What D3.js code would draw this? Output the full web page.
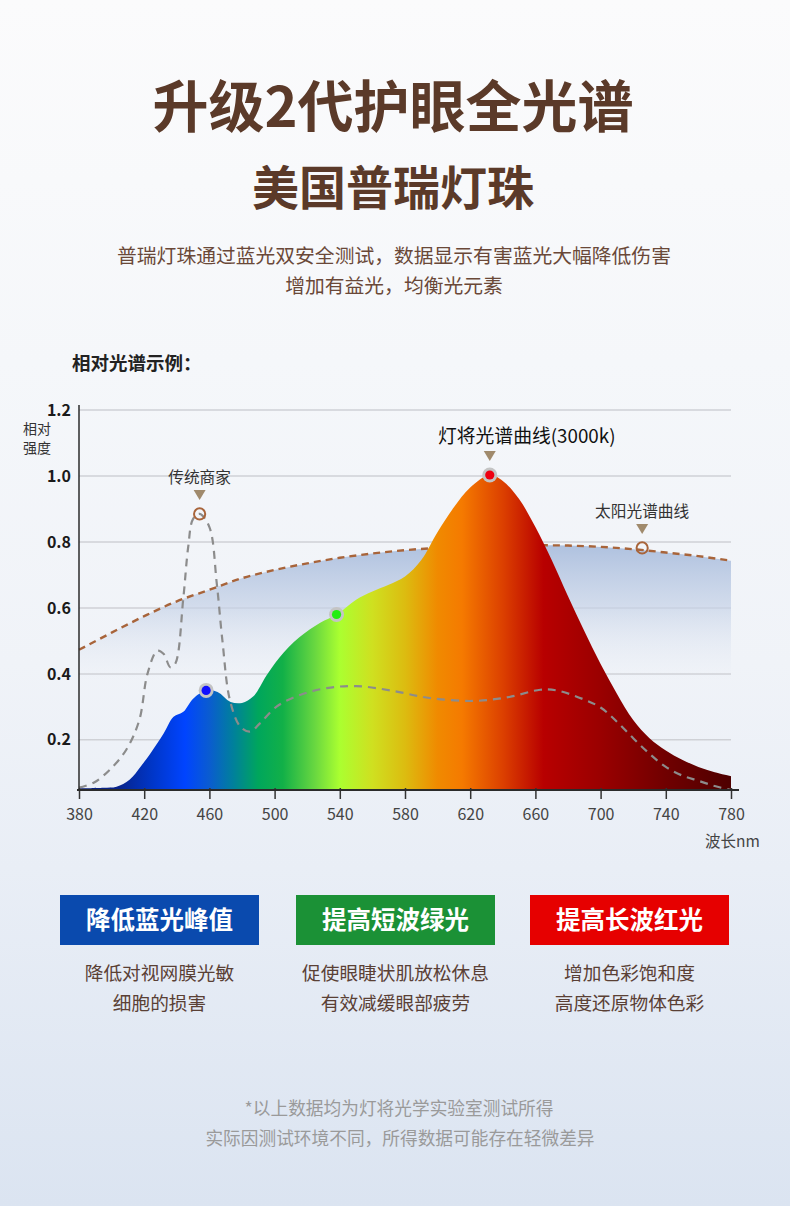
<!DOCTYPE html>
<html>
<head>
<meta charset="utf-8">
<script src="https://cdn.jsdelivr.net/npm/d3@7"></script>
<style>
  html, body { margin: 0; padding: 0; }
  body { width: 790px; height: 1206px; overflow: hidden; }
  svg text { font-family: "Noto Sans CJK SC", "Noto Sans", sans-serif; }
</style>
</head>
<body>
<div id="chart"></div>
<script>
// Data
var ledW = [380, 395, 403, 411, 418, 424, 432, 438, 444, 450, 458, 465, 473, 480, 487, 495, 503, 515, 528, 538, 550, 560, 570, 580, 590, 600, 610, 620, 632, 640, 650, 660, 670, 680, 690, 700, 710, 720, 730, 740, 750, 760, 770, 780];
var ledV = [0.053, 0.055, 0.058, 0.079, 0.12, 0.16, 0.22, 0.27, 0.285, 0.325, 0.35, 0.345, 0.315, 0.312, 0.332, 0.395, 0.45, 0.51, 0.555, 0.58, 0.625, 0.65, 0.67, 0.695, 0.745, 0.83, 0.905, 0.965, 1.003, 0.985, 0.93, 0.845, 0.745, 0.635, 0.53, 0.43, 0.34, 0.26, 0.205, 0.168, 0.14, 0.118, 0.102, 0.09];

var tradW = [380, 389, 399, 409, 417, 422, 428, 432, 436, 439, 444, 447, 450, 454, 460, 464.5, 468, 472.6, 479, 485, 491, 501, 515, 532, 550, 571, 595, 622, 644, 663, 673, 690, 700, 710, 720, 730, 740, 750, 760, 770, 780];
var tradV = [0.055, 0.07, 0.11, 0.17, 0.26, 0.40, 0.47, 0.46, 0.42, 0.43, 0.63, 0.785, 0.87, 0.885, 0.845, 0.675, 0.50, 0.32, 0.24, 0.225, 0.25, 0.30, 0.335, 0.357, 0.363, 0.35, 0.327, 0.318, 0.33, 0.352, 0.35, 0.322, 0.298, 0.255, 0.205, 0.158, 0.118, 0.092, 0.076, 0.06, 0.048];

var sunW = [380, 400, 420, 440, 460, 480, 500, 520, 540, 560, 580, 600, 620, 640, 660, 680, 700, 720, 740, 760, 780];
var sunV = [0.473, 0.525, 0.575, 0.62, 0.655, 0.69, 0.715, 0.735, 0.752, 0.765, 0.775, 0.782, 0.787, 0.79, 0.79, 0.789, 0.785, 0.778, 0.768, 0.757, 0.743];

var specW = [380, 405, 425, 445, 460, 475, 490, 505, 525, 540, 560, 580, 600, 615, 640, 665, 700, 740, 780];
var specC = ["#0b1f78", "#07248e", "#0036c8", "#0044ff", "#0a5cd0", "#00819a", "#00a65c", "#12b048", "#6ad840", "#abff30", "#cfe020", "#dcbc10", "#f08a00", "#f57a00", "#dc4000", "#b80000", "#9a0000", "#700000", "#4e0000"];

var xTicks = [380, 420, 460, 500, 540, 580, 620, 660, 700, 740, 780];
var yTicks = [0.2, 0.4, 0.6, 0.8, 1.0, 1.2];
var yBase = 0.048;

var dotW = [458, 538, 632];
var dotV = [0.35, 0.58, 1.003];
var dotC = ["#1010ff", "#22ee11", "#ee0011"];

var ringW = [454, 725.5];
var ringV = [0.885, 0.782];

var cards = ["降低蓝光峰值", "提高短波绿光", "提高长波红光"];
var cardColors = ["#0a4aae", "#1b9136", "#e60000"];
var cardLines = [
  ["降低对视网膜光敏", "细胞的损害"],
  ["促使眼睫状肌放松休息", "有效减缓眼部疲劳"],
  ["增加色彩饱和度", "高度还原物体色彩"]
];

var W = 790, H = 1206;

var svg = d3.select("#chart").append("svg")
  .attr("width", W).attr("height", H);

var defs = svg.append("defs");

// Page background
var bg = defs.append("linearGradient").attr("id", "bg")
  .attr("x1", 0).attr("y1", 0).attr("x2", 0).attr("y2", 1);
[[0, "#fbfbfc"], [0.3, "#f5f7fa"], [0.55, "#f0f3f8"], [0.72, "#e9eef6"], [1, "#dbe4f1"]].forEach(function (s) {
  bg.append("stop").attr("offset", s[0]).attr("stop-color", s[1]);
});
svg.append("rect").attr("width", W).attr("height", H).attr("fill", "url(#bg)");

// Scales
var x = d3.scaleLinear().domain([380, 780]).range([79, 731]);
var y = d3.scaleLinear().domain([yBase, 1.2]).range([790, 410]);

// Header texts
svg.append("text").attr("x", 393).attr("y", 127).attr("text-anchor", "middle")
  .attr("font-size", 56).attr("font-weight", 700).attr("fill", "#5b3a29")
  .text("升级2代护眼全光谱");
svg.append("text").attr("x", 393).attr("y", 205).attr("text-anchor", "middle")
  .attr("font-size", 47).attr("font-weight", 700).attr("fill", "#5b3a29")
  .text("美国普瑞灯珠");
svg.append("text").attr("x", 394).attr("y", 263).attr("text-anchor", "middle")
  .attr("font-size", 19.8).attr("fill", "#6a4838")
  .text("普瑞灯珠通过蓝光双安全测试，数据显示有害蓝光大幅降低伤害");
svg.append("text").attr("x", 394).attr("y", 293).attr("text-anchor", "middle")
  .attr("font-size", 19.8).attr("fill", "#6a4838")
  .text("增加有益光，均衡光元素");

svg.append("text").attr("x", 72).attr("y", 370)
  .attr("font-size", 18.5).attr("font-weight", 700).attr("fill", "#222")
  .text("相对光谱示例：");

// Chart group
var g = svg.append("g");

// Grid lines
g.selectAll("line.grid").data(yTicks).enter().append("line")
  .attr("class", "grid")
  .attr("x1", x(380)).attr("x2", x(780))
  .attr("y1", function (d) { return y(d); }).attr("y2", function (d) { return y(d); })
  .attr("stroke", "#cfd1d6").attr("stroke-width", 1.5);

// Sun area (faded blue)
var sunGrad = defs.append("linearGradient").attr("id", "sunfill")
  .attr("gradientUnits", "userSpaceOnUse")
  .attr("x1", 0).attr("y1", y(0.8)).attr("x2", 0).attr("y2", y(0.38));
sunGrad.append("stop").attr("offset", 0).attr("stop-color", "#a9bddd").attr("stop-opacity", 0.95);
sunGrad.append("stop").attr("offset", 0.45).attr("stop-color", "#c3d0e6").attr("stop-opacity", 0.7);
sunGrad.append("stop").attr("offset", 1).attr("stop-color", "#e4eaf4").attr("stop-opacity", 0);

var sunData = sunW.map(function (w, i) { return [w, sunV[i]]; });
var tradData = tradW.map(function (w, i) { return [w, tradV[i]]; });
var ledData = ledW.map(function (w, i) { return [w, ledV[i]]; });

var curve = d3.curveCatmullRom.alpha(0.5);

g.append("path").datum(sunData)
  .attr("fill", "url(#sunfill)")
  .attr("d", d3.area().curve(curve)
    .x(function (d) { return x(d[0]); })
    .y0(y(yBase)).y1(function (d) { return y(d[1]); }));

g.append("path").datum(sunData)
  .attr("fill", "none").attr("stroke", "#a8643a").attr("stroke-width", 2.4)
  .attr("stroke-dasharray", "7,5")
  .attr("d", d3.line().curve(curve)
    .x(function (d) { return x(d[0]); })
    .y(function (d) { return y(d[1]); }));

// LED spectrum area
var spec = defs.append("linearGradient").attr("id", "spec")
  .attr("gradientUnits", "userSpaceOnUse")
  .attr("x1", x(380)).attr("y1", 0).attr("x2", x(780)).attr("y2", 0);
specW.forEach(function (w, i) {
  spec.append("stop").attr("offset", (w - 380) / 400).attr("stop-color", specC[i]);
});

g.append("path").datum(ledData)
  .attr("fill", "url(#spec)")
  .attr("d", d3.area().curve(curve)
    .x(function (d) { return x(d[0]); })
    .y0(y(yBase)).y1(function (d) { return y(d[1]); }));

// Traditional LED dashed curve
g.append("path").datum(tradData)
  .attr("fill", "none").attr("stroke", "#8c8c8c").attr("stroke-width", 2.2)
  .attr("stroke-dasharray", "8,6")
  .attr("d", d3.line().curve(curve)
    .x(function (d) { return x(d[0]); })
    .y(function (d) { return y(d[1]); }));

// Axes
var xAxis = g.append("g").attr("transform", "translate(0," + (y(yBase) - 2) + ")")
  .call(d3.axisBottom(x).tickValues(xTicks).tickSize(11).tickFormat(d3.format("d")));
xAxis.select(".domain").remove();
xAxis.selectAll(".tick line").attr("stroke", "#333").attr("stroke-width", 1.5);
xAxis.selectAll(".tick text").attr("dy", 0).attr("y", 32)
  .attr("font-size", 16).attr("fill", "#444")
  .style("font-family", "'Noto Sans CJK SC', sans-serif");

g.append("line").attr("x1", x(380) - 2).attr("x2", x(780) + 8)
  .attr("y1", y(yBase)).attr("y2", y(yBase))
  .attr("stroke", "#2b2b2b").attr("stroke-width", 2);

var yAxis = g.append("g").attr("transform", "translate(" + x(380) + ",0)")
  .call(d3.axisLeft(y).tickValues(yTicks).tickSize(0).tickFormat(d3.format(".1f")));
yAxis.select(".domain").remove();
yAxis.selectAll(".tick text").attr("x", -8)
  .attr("font-size", 16).attr("font-weight", 700).attr("fill", "#1a1a1a")
  .style("font-family", "'Noto Sans CJK SC', sans-serif");

g.append("line").attr("x1", x(380)).attr("x2", x(380))
  .attr("y1", 405).attr("y2", y(yBase))
  .attr("stroke", "#2b2b2b").attr("stroke-width", 1.5);

// Y axis title on two lines
svg.append("text").attr("x", 23).attr("y", 434).attr("font-size", 14).attr("fill", "#333")
  .selectAll("tspan").data(["相对", "强度"]).enter().append("tspan")
  .attr("x", 23).attr("dy", function (d, i) { return i ? 19 : 0; })
  .text(function (d) { return d; });
svg.append("text").attr("x", 705).attr("y", 847).attr("font-size", 15.5).attr("fill", "#444").text("波长nm");

// Dots on the LED curve
g.selectAll("circle.ring").data(dotW).enter().append("circle")
  .attr("cx", function (d) { return x(d); })
  .attr("cy", function (d, i) { return y(dotV[i]); })
  .attr("r", 7.5).attr("fill", "#c4c4c4");
g.selectAll("circle.dot").data(dotW).enter().append("circle")
  .attr("cx", function (d) { return x(d); })
  .attr("cy", function (d, i) { return y(dotV[i]); })
  .attr("r", 4.6).attr("fill", function (d, i) { return dotC[i]; });

// Hollow rings on the dashed curves
g.selectAll("circle.hollow").data(ringW).enter().append("circle")
  .attr("cx", function (d) { return x(d); })
  .attr("cy", function (d, i) { return y(ringV[i]); })
  .attr("r", 5.6).attr("fill", "none")
  .attr("stroke", "#a8643a").attr("stroke-width", 2);

// Pointer triangles and callouts
var callW = [ringW[0], dotW[2], ringW[1]];
var callV = [ringV[0], dotV[2], ringV[1]];
var callText = ["传统商家", "灯将光谱曲线(3000k)", "太阳光谱曲线"];
var callSize = [15.7, 18.8, 15.7];
var callDx = [0, 37, 0];

g.selectAll("path.tri").data(callW).enter().append("path")
  .attr("d", function (d, i) {
    var cx = x(d), cy = y(callV[i]) - 19;
    return "M" + (cx - 6) + "," + (cy - 5) + "L" + (cx + 6) + "," + (cy - 5) + "L" + cx + "," + (cy + 5) + "Z";
  })
  .attr("fill", "#a08a6c");

g.selectAll("text.call").data(callW).enter().append("text")
  .attr("x", function (d, i) { return x(d) + callDx[i]; })
  .attr("y", function (d, i) { return y(callV[i]) - 31 - (i === 1 ? 1 : 0); })
  .attr("text-anchor", "middle")
  .attr("font-size", function (d, i) { return callSize[i]; })
  .attr("fill", function (d, i) { return i === 1 ? "#111" : "#333"; })
  .text(function (d, i) { return callText[i]; });

// Feature cards
var cardX = [60, 296, 530];
var card = svg.selectAll("g.card").data(cards).enter().append("g")
  .attr("transform", function (d, i) { return "translate(" + cardX[i] + ",895)"; });
card.append("rect").attr("width", 199).attr("height", 50)
  .attr("fill", function (d, i) { return cardColors[i]; });
card.append("text").attr("x", 99.5).attr("y", 34).attr("text-anchor", "middle")
  .attr("font-size", 24.5).attr("font-weight", 700).attr("fill", "#fff")
  .text(function (d) { return d; });
card.each(function (d, i) {
  d3.select(this).selectAll("text.sub").data(cardLines[i]).enter().append("text")
    .attr("x", 99.5).attr("y", function (t, j) { return 85 + j * 30; })
    .attr("text-anchor", "middle").attr("font-size", 18.7).attr("fill", "#5a4035")
    .text(function (t) { return t; });
});

// Footnote
svg.append("text").attr("x", 399).attr("y", 1115).attr("text-anchor", "middle")
  .attr("font-size", 17.7).attr("fill", "#9a9a9a")
  .text("*以上数据均为灯将光学实验室测试所得");
svg.append("text").attr("x", 400).attr("y", 1145).attr("text-anchor", "middle")
  .attr("font-size", 17.7).attr("fill", "#9a9a9a")
  .text("实际因测试环境不同，所得数据可能存在轻微差异");
</script>
</body>
</html>
